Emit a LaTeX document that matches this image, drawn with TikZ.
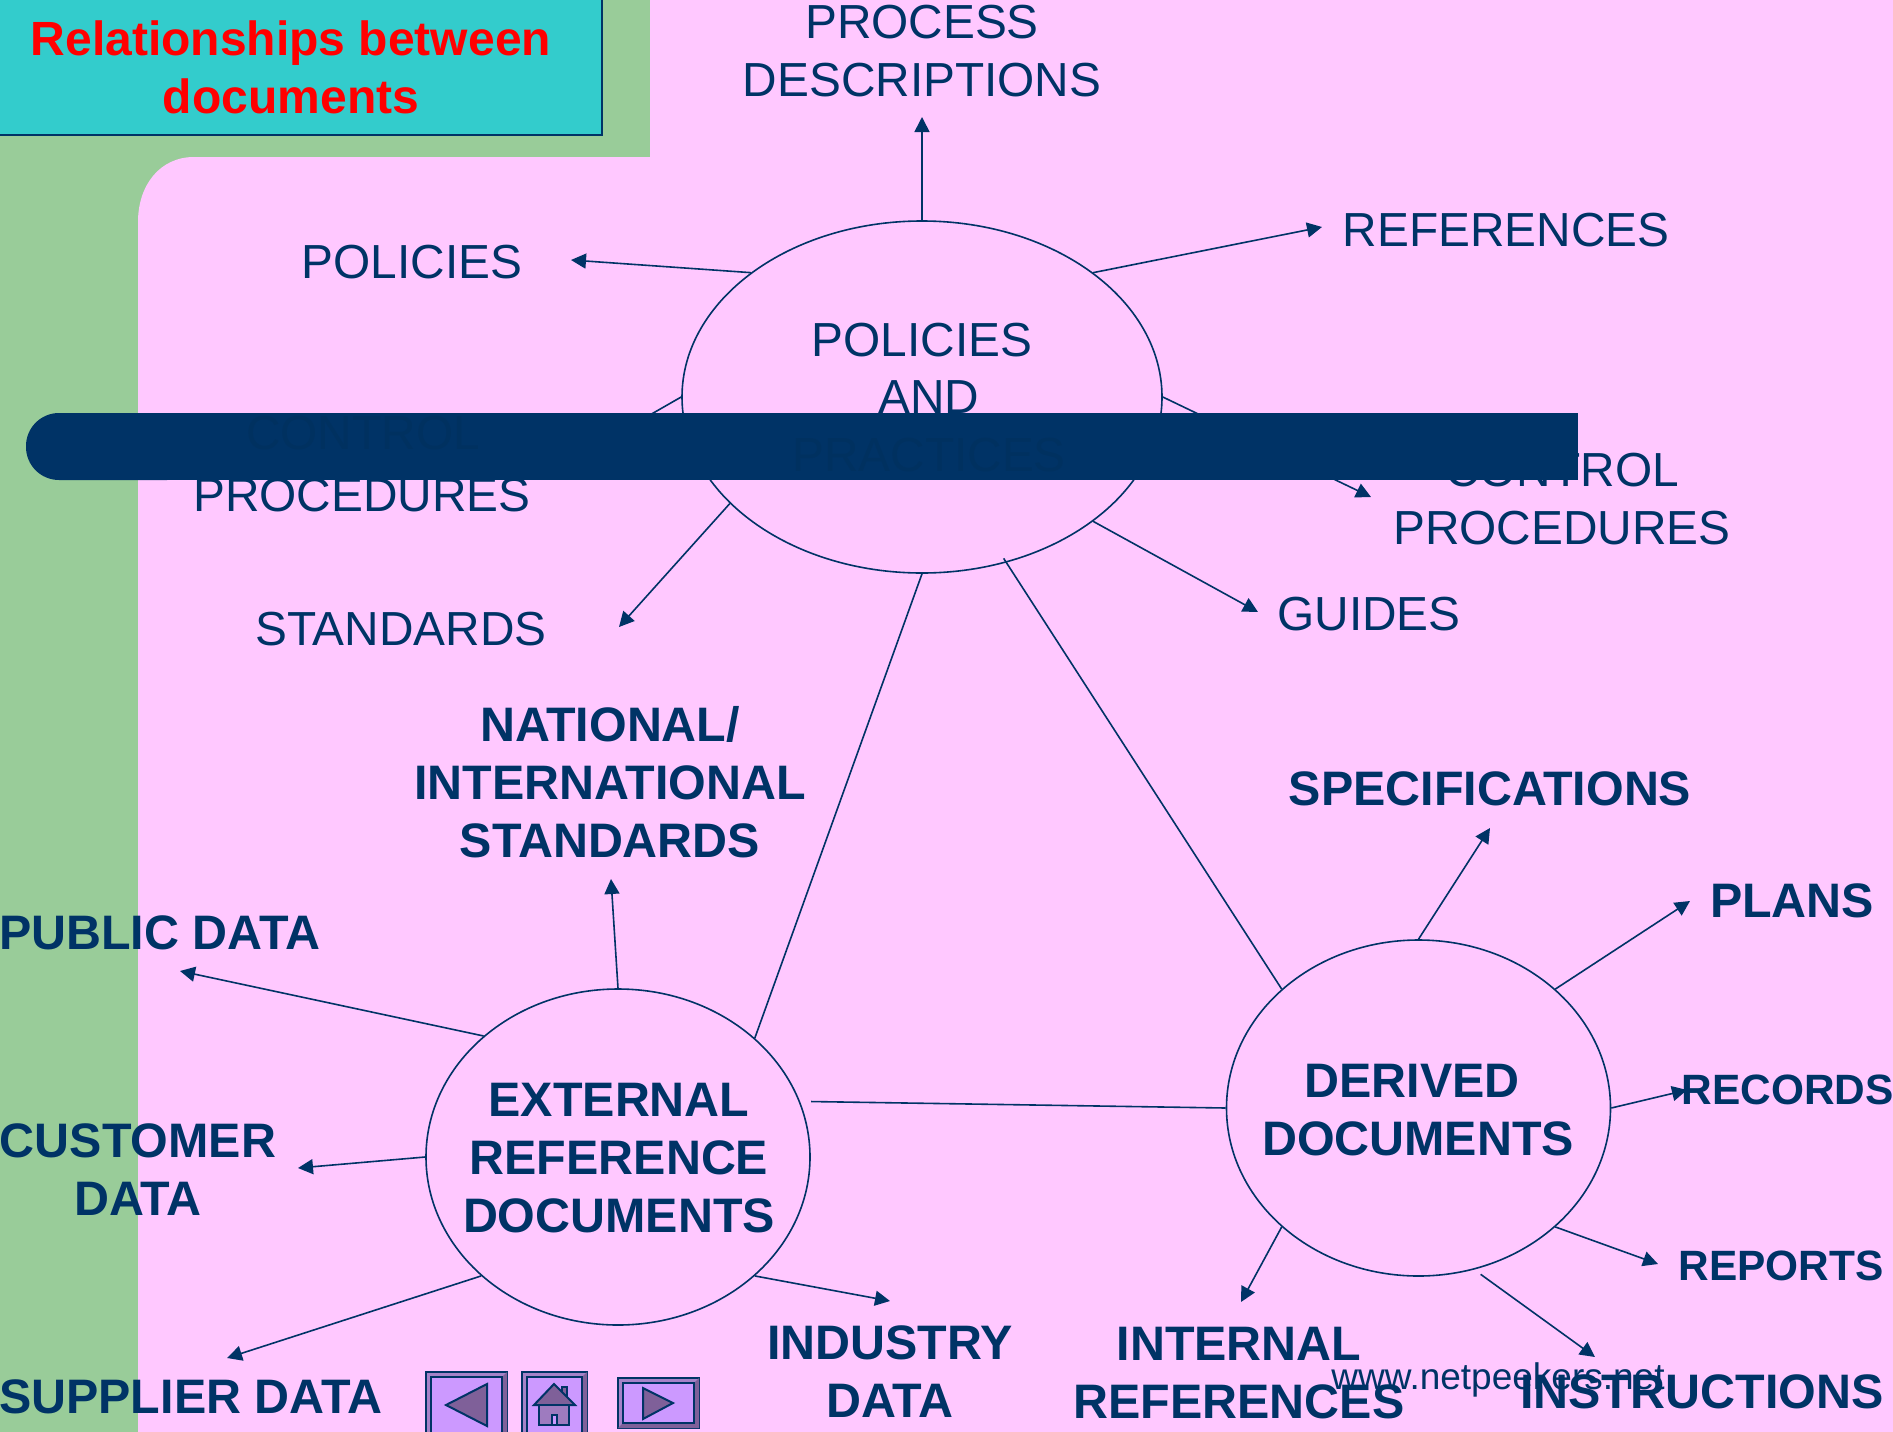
\documentclass[tikz,border=0pt]{standalone}
\usepackage{fontspec}
\setmainfont{Liberation Sans}
\usepackage{xcolor}
\usetikzlibrary{arrows.meta,shapes,positioning,calc}

\definecolor{pinkback}{HTML}{FFC8FF}
\definecolor{greenback}{HTML}{99CC99}
\definecolor{tealbox}{HTML}{33CCCC}
\definecolor{navy}{HTML}{003366}
\definecolor{darknavy}{HTML}{003160}
\definecolor{btnface}{HTML}{CC99FF}
\definecolor{btnlight}{HTML}{A682C8}
\definecolor{btndark}{HTML}{7F6099}

\tikzset{
  plain/.style={text=navy, align=center, inner sep=0pt, font=\fontsize{47.8}{58}\selectfont},
  heavy/.style={text=navy, align=center, inner sep=0pt, font=\fontsize{48.4}{58}\selectfont\bfseries},
  small/.style={heavy, font=\fontsize{42.4}{50}\selectfont\bfseries},
  doc/.style={draw=navy, line width=1.6pt, ellipse, minimum width=#1, inner sep=0pt},
  link/.style={draw=navy, line width=1.6pt},
  arrow/.style={link, -{Triangle[length=15pt,width=15pt]}},
  btn/.style={draw=navy, line width=2pt},
}

\begin{document}
\begin{tikzpicture}[x=1pt, y=-1pt]
\useasboundingbox (0,0) rectangle (1893,1432);
\clip (0,0) rectangle (1893,1432);

% background
\fill[greenback] (0,0) rectangle (1893,1432);
\fill[pinkback] (650,0) -- (650,157) -- (194,157) .. controls (160,157) and (138,185) .. (138,222) -- (138,1432) -- (1893,1432) -- (1893,0) -- cycle;

% title
\node[draw=navy, line width=2pt, fill=tealbox, minimum width=613pt, minimum height=144pt, anchor=north east] (title) at (603,-10) {};
\node[text=red, align=center, inner sep=0pt, font=\fontsize{48}{58}\selectfont\bfseries] (titletext) at (291,67) {Relationships between\\documents};

% ellipses
\node[doc=480pt, minimum height=352pt] (policy) at (922,397) {};
\node[doc=384pt, minimum height=336pt] (extern) at (618,1157) {};
\node[doc=384pt, minimum height=336pt] (derived) at (1418.5,1108) {};

% ellipse texts
\node[plain] (policytext) at (922,340) {POLICIES};
\node[plain] (andtext) at (929,397) {AND};
\node[heavy] (externtext) at (619,1158) {EXTERNAL\\REFERENCE\\DOCUMENTS};
\node[heavy] (derivedtext) at (1412,1081) {DERIVED};
\node[heavy] (documentstext) at (1418,1139) {DOCUMENTS};

% labels of the top ellipse
\node[plain] (process) at (922,51) {PROCESS\\DESCRIPTIONS};
\node[plain] (references) at (1506,230) {REFERENCES};
\node[plain] (policies) at (412,262) {POLICIES};
\node[plain] (procedures) at (362,495) {PROCEDURES};
\node[plain] (controlright) at (1562,499) {CONTROL\\PROCEDURES};
\node[plain] (guides) at (1369,614) {GUIDES};
\node[plain] (standards) at (401,629) {STANDARDS};

% labels of the external ellipse
\node[heavy] (national) at (610,782) {NATIONAL/\\INTERNATIONAL\\STANDARDS};
\node[heavy, anchor=west] (public) at (-1,933) {PUBLIC DATA};
\node[heavy] (customer) at (138,1170) {CUSTOMER\\DATA};
\node[heavy, anchor=west] (supplier) at (-1,1397) {SUPPLIER DATA};
\node[heavy] (industry) at (890,1372) {INDUSTRY\\DATA};

% labels of the derived ellipse
\node[heavy] (specs) at (1490,789) {SPECIFICATIONS};
\node[heavy] (plans) at (1792,901) {PLANS};
\node[small] (records) at (1787.5,1090) {RECORDS};
\node[small] (reports) at (1781,1266) {REPORTS};
\node[heavy] (instructions) at (1702,1392) {INSTRUCTIONS};
\node[heavy] (internal) at (1239,1373) {INTERNAL\\REFERENCES};
\node[plain, font=\fontsize{37}{44}\selectfont] (site) at (1498,1380) {www.netpeekers.net};

% arrow ends
\coordinate (tipprocess) at (922,117);
\coordinate (tipreferences) at (1322,227);
\coordinate (tippolicies) at (571,260);
\coordinate (tipcontrolleft) at (545,475);
\coordinate (tipcontrolright) at (1371,497);
\coordinate (tipguides) at (1258,612);
\coordinate (tipstandards) at (619,627);
\coordinate (tipnational) at (611,879);
\coordinate (tippublic) at (180,971);
\coordinate (tipcustomer) at (298,1168);
\coordinate (tipsupplier) at (227,1358);
\coordinate (tipindustry) at (890,1301);
\coordinate (tipspecs) at (1490,828);
\coordinate (tipplans) at (1690,901);
\coordinate (tiprecords) at (1687,1090);
\coordinate (tipreports) at (1658,1264);
\coordinate (tipinstructions) at (1595,1357);
\coordinate (tipinternal) at (1241,1302);

% connectors
\draw[arrow] (policy.90) -- (tipprocess);
\draw[arrow] (policy.36.4) -- (tipreferences);
\draw[arrow] (policy.144.1) -- (tippolicies);
\draw[arrow] (policy.180) -- (tipcontrolleft);
\draw[arrow] (policy.0) -- (tipcontrolright);
\draw[arrow] (policy.-36.2) -- (tipguides);
\draw[arrow] (policy.209.5) -- (tipstandards);

\draw[link] (policy.-90) -- (extern.41.5);
\draw[link, shorten <=-5pt] (policy.-63.3) -- (derived.139.4);
\draw[link, shorten <=11pt] (extern.17) -- (derived.180);

\draw[arrow] (extern.90) -- (tipnational);
\draw[arrow] (extern.138.8) -- (tippublic);
\draw[arrow] (extern.180) -- (tipcustomer);
\draw[arrow] (extern.221.5) -- (tipsupplier);
\draw[arrow] (extern.-41.2) -- (tipindustry);

\draw[arrow] (derived.90) -- (tipspecs);
\draw[arrow] (derived.41.5) -- (tipplans);
\draw[arrow] (derived.0) -- (tiprecords);
\draw[arrow] (derived.-41.5) -- (tipreports);
\draw[arrow, shorten <=8pt] (derived.-71) -- (tipinstructions);
\draw[arrow] (derived.221.5) -- (tipinternal);

% bar
\fill[navy, rounded corners=33pt] (26,413) rectangle (200,480);
\fill[navy] (100,413) rectangle (1578,480);
\node[plain, text=darknavy] (practices) at (929,455) {PRACTICES};
\node[plain, text=darknavy] (controlleft) at (363,433) {CONTROL};

% buttons
\foreach \xa/\ya/\xb/\yb in {426/1372/507/1460, 522/1372/587/1460, 618/1378/699/1428} {
  \draw[btn, fill=btnlight] (\xa,\ya) rectangle (\xb,\yb);
  \fill[btndark] (\xb,\ya) -- (\xb,\yb) -- (\xa,\yb) -- (\xa+5,\yb-5) -- (\xb-5,\yb-5) -- (\xb-5,\ya+5) -- cycle;
  \draw[btn, fill=btnface] (\xa+5,\ya+5) rectangle (\xb-5,\yb-5);
}
\draw[btn, fill=btndark] (446,1405) -- (487,1384) -- (487,1426) -- cycle;
\draw[btn, fill=btndark] (643,1388) -- (673,1403) -- (643,1419) -- cycle;
\draw[btn, fill=btndark] (562,1387) rectangle (567,1397);
\draw[btn, fill=btndark] (554,1384) -- (534,1405) -- (575,1405) -- cycle;
\draw[btn, fill=btnlight!80!btndark] (539,1405) rectangle (569,1425);
\draw[btn, fill=btnface] (552,1415) rectangle (557,1425);

\end{tikzpicture}
\end{document}
